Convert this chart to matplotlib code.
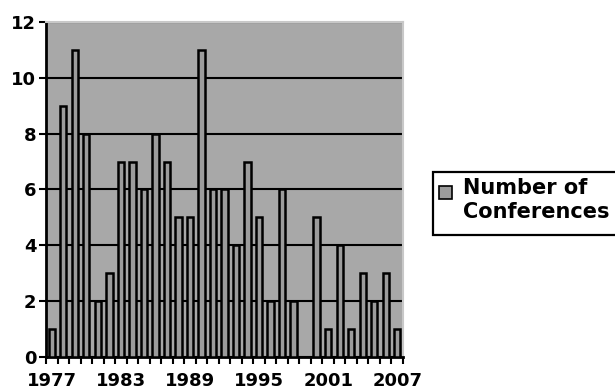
import matplotlib.pyplot as plt
import numpy as np
from matplotlib.patches import Rectangle
from matplotlib.ticker import FixedLocator

years = list(range(1977, 2008))
conferences = [1, 9, 11, 8, 2, 3, 7, 7, 6, 8, 7, 5, 5, 11, 6, 6, 4, 7, 5, 2, 6, 2, 0,
               5, 1, 4, 1, 3, 2, 3, 1]
label_years = [1977, 1983, 1989, 1995, 2001, 2007]
series_name = "Number of\nConferences"

plt.rcParams["font.family"] = ["DejaVu Sans"]
plt.rcParams["font.weight"] = "bold"

bar_color = "#9c9c9c"

fig = plt.figure(figsize=(6.15, 3.91), dpi=100)
ax = fig.add_axes([0.0748, 0.087, 0.5805, 0.857])
ax.set_facecolor("#a8a8a8")

x = np.arange(len(years))
ax.bar(x, conferences, width=0.55, color=bar_color, edgecolor="black",
       linewidth=1.8, zorder=3)

ax.set_xlim(-0.5, len(years) - 0.5)
ax.set_ylim(0, 12)
ax.set_yticks(range(0, 13, 2))
ax.yaxis.grid(True, color="black", linewidth=1.5, zorder=1)

ax.set_xticks([years.index(y) for y in label_years])
ax.set_xticklabels([str(y) for y in label_years])
ax.xaxis.set_minor_locator(FixedLocator(np.arange(-0.5, len(years), 1)))
ax.tick_params(axis="x", which="major", length=0, labelsize=13, pad=11)
ax.tick_params(axis="x", which="minor", length=5, width=1.5, direction="out")
ax.tick_params(axis="y", labelsize=13, length=5, width=1.5, pad=2)

for side in ("left", "bottom"):
    ax.spines[side].set_linewidth(2)
for side in ("top", "right"):
    ax.spines[side].set_color("#c8c8c8")
    ax.spines[side].set_linewidth(1.5)

# legend box, running off the right edge of the figure
W, H = fig.get_size_inches() * fig.dpi
fig.add_artist(Rectangle((433 / W, 1 - 235 / H), 200 / W, 63 / H,
                         transform=fig.transFigure, facecolor="white",
                         edgecolor="black", linewidth=1.6))
fig.add_artist(Rectangle((439 / W, 1 - 199 / H), 13 / W, 13 / H,
                         transform=fig.transFigure, facecolor=bar_color,
                         edgecolor="black", linewidth=1.2))
fig.text(463 / W, 1 - 178 / H, series_name, fontsize=15, fontweight="bold",
         va="top", ha="left", linespacing=1.25)

fig.savefig("out.png", dpi=100)
